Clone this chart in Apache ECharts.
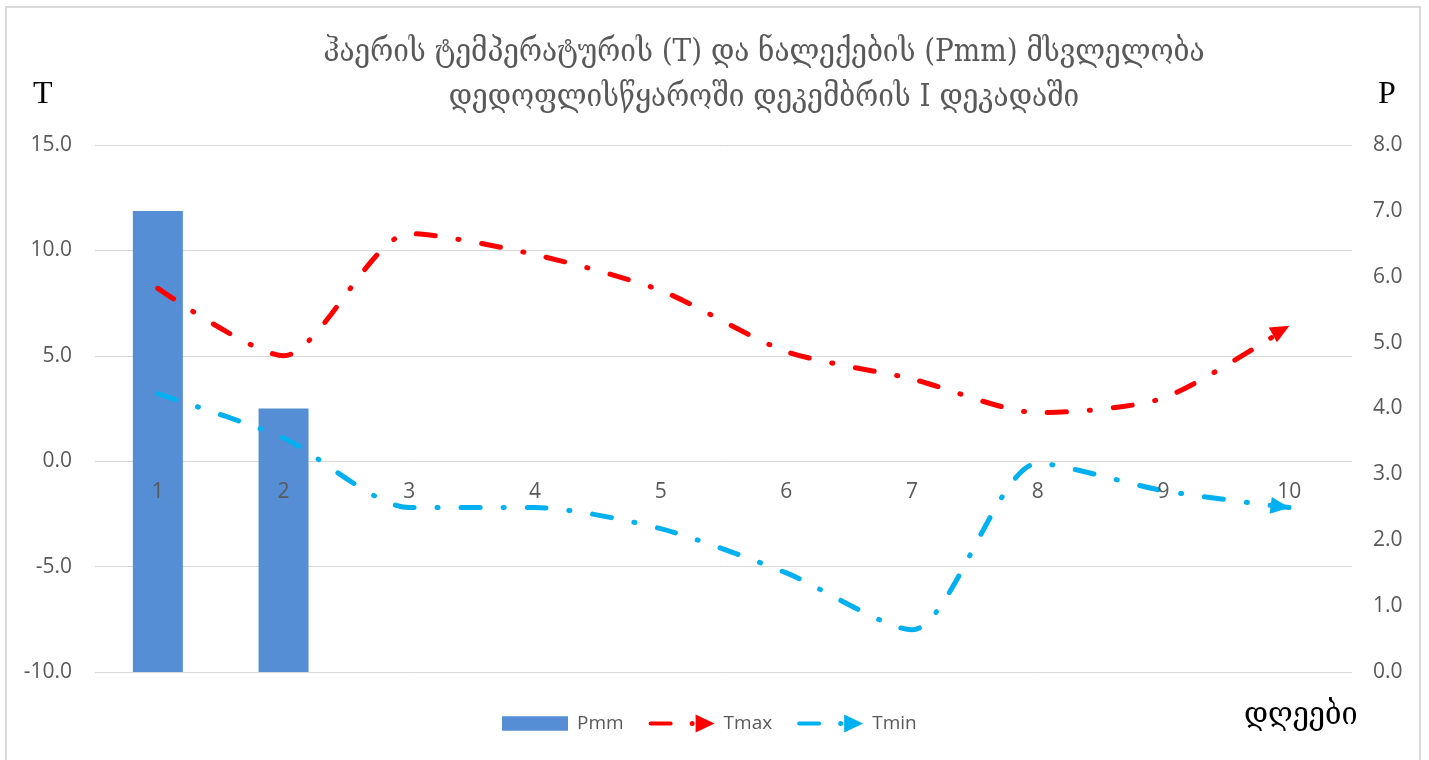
<!DOCTYPE html>
<html>
<head>
<meta charset="utf-8">
<script src="https://cdn.jsdelivr.net/npm/echarts@6/dist/echarts.min.js"></script>
<style>
  html, body { margin: 0; padding: 0; background: #fff; }
  #chart { width: 1429px; height: 760px; }
</style>
</head>
<body>
<div id="chart"></div>
<script>
// Daily values for the first ten days of December
const days = ['1', '2', '3', '4', '5', '6', '7', '8', '9', '10'];
const pmm = [7.0, 4.0, 0, 0, 0, 0, 0, 0, 0, 0];
const tmax = [8.2, 5.0, 10.8, 9.8, 8.1, 5.2, 3.9, 2.3, 3.0, 6.4];
const tmin = [3.2, 1.1, -2.2, -2.2, -3.2, -5.3, -8.0, -0.1, -1.4, -2.2];

const titleText = 'ჰაერის ტემპერატურის (T) და ნალექების (Pmm) მსვლელობა\nდედოფლისწყაროში დეკემბრის I დეკადაში';
const tAxisName = 'T';
const pAxisName = 'P';
const xAxisName = 'დღეები';

const grey = '#595959';
const georgianFont = '"DejaVu Serif Condensed", "DejaVu Serif", "DejaVu Sans Condensed", serif';
const labelFont = '"Open Sans", "Noto Sans", sans-serif';

// Line with an arrow head on its last point
function arrowLine(values, rotate, offset) {
  return values.map((v, i) => i === values.length - 1
    ? { value: v, symbol: 'triangle', symbolSize: [17, 19], symbolRotate: rotate, symbolOffset: offset }
    : { value: v, symbol: 'none' });
}

const dashDot = [19, 23, 1, 23];
const lineIcon = 'path://M2 7 H22 A2 2 0 0 1 22 11 H2 A2 2 0 0 1 2 7 Z M41 9 A2.5 2.5 0 1 0 46 9 A2.5 2.5 0 1 0 41 9 Z M47 0 L66 9 L47 18 Z';

const chart = echarts.init(document.getElementById('chart'), null, { renderer: 'canvas' });
chart.setOption({
  animation: false,
  backgroundColor: '#fff',
  title: {
    text: titleText,
    left: 764,
    textAlign: 'center',
    top: 30,
    padding: 0,
    textStyle: {
      fontFamily: georgianFont,
      fontSize: 31,
      fontWeight: 'normal',
      color: grey,
      lineHeight: 45
    }
  },
  legend: {
    bottom: 22,
    left: 497,
    itemGap: 25,
    itemWidth: 66,
    itemHeight: 18,
    textStyle: { fontFamily: labelFont, fontSize: 19, color: grey, padding: [0, 0, 0, 4] },
    data: [
      { name: 'Pmm', icon: 'path://M0 2 H63 V16 H0 Z' },
      { name: 'Tmax', icon: lineIcon },
      { name: 'Tmin', icon: lineIcon }
    ]
  },
  grid: { left: 95, right: 77, top: 145, bottom: 88, containLabel: false },
  xAxis: {
    type: 'category',
    data: days,
    boundaryGap: true,
    axisLine: { show: false },
    axisTick: { show: false },
    axisLabel: { margin: 20, fontFamily: labelFont, fontSize: 21, color: grey },
    splitLine: { show: false },
    z: 10
  },
  yAxis: [
    {
      type: 'value',
      min: -10, max: 15, interval: 5,
      axisLine: { show: false },
      axisTick: { show: false },
      axisLabel: { margin: 23, fontFamily: labelFont, fontSize: 21, color: grey,
        formatter: v => v.toFixed(1) },
      splitLine: { show: true, lineStyle: { color: '#d9d9d9', width: 1 } }
    },
    {
      type: 'value',
      min: 0, max: 8, interval: 1,
      axisLine: { show: false },
      axisTick: { show: false },
      axisLabel: { margin: 21, fontFamily: labelFont, fontSize: 21, color: grey,
        formatter: v => v.toFixed(1) },
      splitLine: { show: false }
    }
  ],
  series: [
    {
      name: 'Pmm',
      type: 'bar',
      yAxisIndex: 1,
      data: pmm,
      barWidth: 50,
      itemStyle: { color: '#558ED5' },
      z: 1
    },
    {
      name: 'Tmax',
      type: 'line',
      yAxisIndex: 0,
      data: arrowLine(tmax, -61, [-8, 4]),
      smooth: 0.25,
      symbol: 'none',
      showSymbol: true,
      itemStyle: { color: '#FF0000' },
      lineStyle: { color: '#FF0000', width: 5, type: dashDot, cap: 'round' },
      z: 3
    },
    {
      name: 'Tmin',
      type: 'line',
      yAxisIndex: 0,
      data: arrowLine(tmin, -97, [-9, -1]),
      smooth: 0.25,
      symbol: 'none',
      showSymbol: true,
      itemStyle: { color: '#00B0F0' },
      lineStyle: { color: '#00B0F0', width: 5, type: dashDot, cap: 'round' },
      z: 3
    }
  ],
  graphic: [
    {
      type: 'rect',
      shape: { x: 6, y: 7, width: 1414, height: 770 },
      style: { fill: 'none', stroke: '#d9d9d9', lineWidth: 2 },
      silent: true, z: -1
    },
    {
      type: 'text', left: 33, top: 79,
      style: { text: tAxisName, font: '32px "Liberation Serif", "DejaVu Serif", serif', fill: '#000' }
    },
    {
      type: 'text', left: 1378, top: 79,
      style: { text: pAxisName, font: '32px "Liberation Serif", "DejaVu Serif", serif', fill: '#000' }
    },
    {
      type: 'text', left: 1244, top: 700,
      style: { text: xAxisName, font: '32px ' + georgianFont, fill: '#000' }
    }
  ]
});

// Category labels sit along the zero line of the temperature axis
const zeroY = chart.convertToPixel({ yAxisIndex: 0 }, 0);
const bottomY = chart.convertToPixel({ yAxisIndex: 0 }, -10);
chart.setOption({ xAxis: { offset: zeroY - bottomY } });
</script>
</body>
</html>
